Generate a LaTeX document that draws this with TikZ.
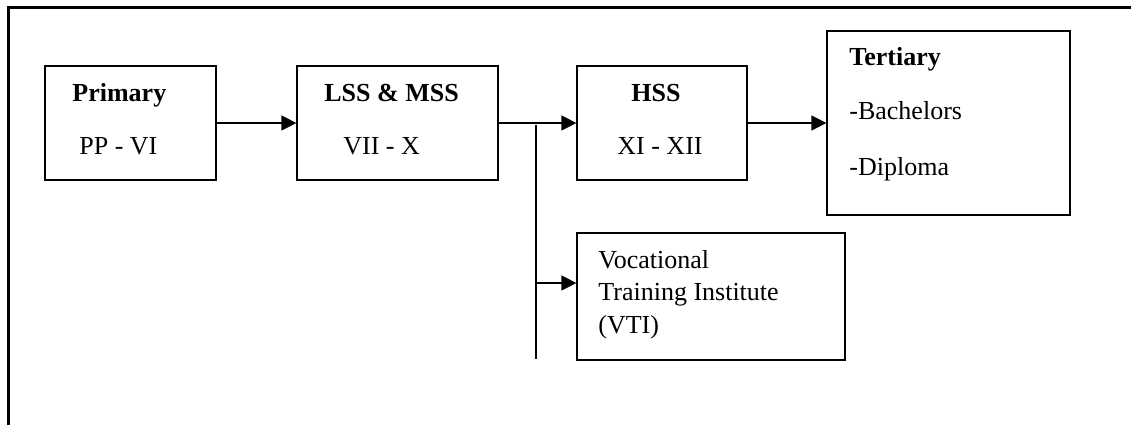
\documentclass[tikz,border=0pt]{standalone}
\usepackage{fontspec}
\setmainfont{Liberation Serif}
\usetikzlibrary{arrows.meta}
\usetikzlibrary{fit}
\tikzset{stagebox/.style={draw, line width=.6pt, inner sep=0pt}}
\tikzset{lbl/.style={anchor=base west, inner sep=0pt, font=\fontsize{13}{16.25}\selectfont}}
\tikzset{flow/.style={line width=.6pt, -{Triangle[length=7.5pt,width=7.5pt]}}}

\begin{document}
\begin{tikzpicture} [x=.5pt, y=-.5pt]
\useasboundingbox (0,0) rectangle (1131,425);
\draw[line width=1.8pt] (8.5,425) -- (8.5,7.5) -- (1131,7.5);
\node[stagebox, fit={(45,66) (216,180)}] (primary) {};
\node[stagebox, fit={(297,66) (498,180)}] (lss) {};
\node[stagebox, fit={(577,66) (747,180)}] (hss) {};
\node[stagebox, fit={(827,31) (1070,215)}] (tertiary) {};
\node[stagebox, fit={(577,233) (845,360)}] (vti) {};
\node[lbl, font=\fontsize{13}{16}\selectfont\bfseries] (primaryhd) at (72,101) {Primary};
\node[lbl] (primaryyr) at (79,154) {PP - VI};
\node[lbl, font=\fontsize{13}{16}\selectfont\bfseries] (lsshd) at (324,101) {LSS \& MSS};
\node[lbl] (lssyr) at (343,154) {VII - X};
\node[lbl, font=\fontsize{13}{16}\selectfont\bfseries] (hsshd) at (631,101) {HSS};
\node[lbl] (hssyr) at (617,154) {XI - XII};
\node[lbl, font=\fontsize{13}{16}\selectfont\bfseries] (tertiaryhd) at (849,65) {Tertiary};
\node[lbl] (bachelors) at (849,119) {-Bachelors};
\node[lbl] (diploma) at (849,175) {-Diploma};
\node[lbl, align=left] (vtitxt) at (598,333) {Vocational\\Training Institute\\(VTI)};
\foreach \a/\b in {primary/lss, lss/hss, hss/tertiary}
 \draw[flow] (\a.east) -- (\b.west);
\coordinate (splittop) at (536,125);
\coordinate (splitbot) at (536,359);
\coordinate (branch) at (536,283);
\draw[line width=.6pt] (splittop) -- (splitbot);
\draw[flow] (branch) -- (branch -| vti.west);
\end{tikzpicture}
\end{document}
